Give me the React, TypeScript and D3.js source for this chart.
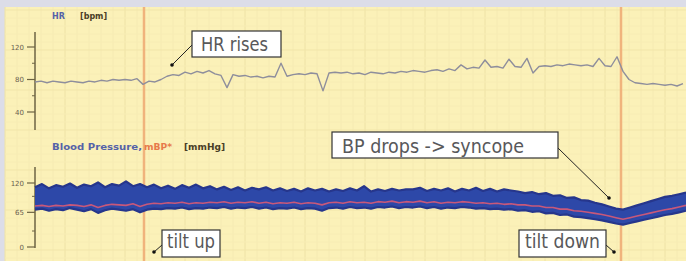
import React from 'react';
import * as d3 from 'd3';

const W = 686;
const H = 261;

// time in seconds (arbitrary), HR sampled every 6 s, BP every 7 s
const hrStep = 6;
const bpStep = 7;
const tiltEvents = [109, 586];

const hrValues = [
  77, 78, 76, 78, 77, 76, 78, 77, 76, 78,
  77, 79, 78, 80, 79, 80, 79, 81, 74, 78,
  77, 80, 84, 86, 85, 89, 87, 90, 88, 91,
  87, 85, 70, 86, 84, 85, 83, 84, 82, 84,
  83, 100, 84, 86, 87, 86, 88, 87, 66, 88,
  89, 88, 89, 87, 88, 86, 89, 88, 87, 89,
  88, 90, 89, 91, 90, 89, 91, 92, 90, 93,
  91, 98, 93, 95, 94, 104, 95, 96, 94, 105,
  96, 95, 106, 88, 96, 97, 96, 98, 97, 99,
  98, 97, 98, 96, 106, 97, 96, 108, 90, 80,
  76, 75, 74, 75, 74, 73, 74, 72, 75,
];

const bpSystolic = [
  112, 118, 110, 116, 113, 119, 111, 117, 114, 121,
  112, 118, 115, 123, 114, 118, 112, 117, 110, 115,
  109, 116, 111, 117, 110, 114, 108, 113, 107, 112,
  106, 111, 108, 112, 106, 110, 105, 109, 104, 110,
  106, 109, 104, 108, 105, 110, 106, 114, 104, 108,
  105, 109, 106, 108, 108, 111, 105, 109, 106, 110,
  104, 109, 106, 111, 105, 109, 104, 108, 106, 104,
  101, 103, 99, 101, 96, 97, 92, 93, 88, 87,
  83, 80, 76, 72, 70, 74, 78, 82, 86, 90,
  94, 96, 99, 102,
];

const bpDiastolic = [
  70, 72, 68, 71, 69, 73, 70, 67, 71, 64,
  69, 72, 70, 68, 71, 65, 70, 72, 71, 73,
  72, 74, 71, 73, 72, 74, 73, 75, 72, 74,
  73, 75, 72, 74, 71, 73, 72, 74, 71, 73,
  72, 68, 73, 74, 72, 75, 73, 74, 72, 75,
  74, 76, 73, 75, 74, 76, 73, 75, 72, 74,
  73, 75, 74, 72, 73, 71, 72, 70, 71, 68,
  69, 66, 67, 63, 64, 60, 61, 57, 56, 54,
  52, 50, 47, 44, 42, 45, 48, 51, 54, 57,
  60, 62, 65, 68,
];

const bpMean = [
  77, 78, 76, 78, 77, 79, 78, 76, 79, 74,
  78, 80, 79, 78, 81, 76, 80, 82, 81, 83,
  82, 84, 81, 83, 82, 84, 83, 85, 82, 84,
  83, 85, 82, 84, 81, 83, 82, 84, 81, 83,
  82, 79, 83, 84, 82, 85, 83, 84, 82, 85,
  84, 86, 83, 85, 84, 86, 83, 85, 82, 84,
  83, 85, 84, 82, 83, 81, 82, 80, 81, 79,
  79, 77, 77, 74, 74, 71, 71, 68, 67, 65,
  63, 61, 58, 55, 52, 55, 58, 61, 64, 67,
  70, 72, 75, 78,
];

const hrTicks = [40, 80, 120];
const hrMinorTicks = [60, 100];
const bpTicks = [0, 65, 120];
const bpMinorTicks = [30, 95];

const annotationLabels = ['HR rises', 'BP drops -> syncope', 'tilt up', 'tilt down'];

// layout for annotations (box, text, pointer)
const annotationLayout = [
  { x: 192, y: 31, w: 89, h: 26, tx: 201, tw: 67, base: 51, from: [192, 45], to: [172, 65] },
  { x: 332, y: 132, w: 226, h: 26, tx: 342, tw: 182, base: 153, from: [558, 148], to: [609, 198] },
  { x: 162, y: 230, w: 58, h: 27, tx: 167, tw: 48, base: 248, from: [162, 245], to: [154, 252] },
  { x: 519, y: 230, w: 87, h: 27, tx: 525, tw: 75, base: 248, from: [606, 245], to: [614, 252] },
];

export default function App() {
  const x = d3.scaleLinear().domain([0, 651]).range([35, 686]);
  const yHR = d3.scaleLinear().domain([40, 120]).range([112, 47]);
  const yBP = d3.scaleLinear().domain([0, 120]).range([247, 183]);

  const hrLine = d3
    .line<number>()
    .x((_, i) => x(i * hrStep))
    .y((d) => yHR(d));

  const bpArea = d3
    .area<number>()
    .x((_, i) => x(i * bpStep))
    .y0((_, i) => yBP(bpDiastolic[i]))
    .y1((d) => yBP(d));

  const bpLine = d3
    .line<number>()
    .x((_, i) => x(i * bpStep))
    .y((d) => yBP(d));

  const gridX = d3.range(5, W, 12);
  const gridY = d3.range(10, H, 8);

  const font = '"DejaVu Sans", Verdana, sans-serif';

  return (
    <svg
      width={W}
      height={H}
      style={{ position: 'absolute', left: 0, top: 0, display: 'block' }}
    >
      <rect x={0} y={0} width={W} height={H} fill="#dcdde8" />
      <rect x={5} y={7} width={W - 5} height={H - 7} fill="#fbf1b8" />
      {gridX.map((gx, i) => (
        <line
          key={'gx' + i}
          x1={gx}
          x2={gx}
          y1={7}
          y2={H}
          stroke={i % 5 === 0 ? '#eee2a6' : '#f5eab2'}
          strokeWidth={1}
        />
      ))}
      {gridY.map((gy, i) => (
        <line
          key={'gy' + i}
          x1={5}
          x2={W}
          y1={gy}
          y2={gy}
          stroke={i % 5 === 0 ? '#f1e5a9' : '#f7ecb4'}
          strokeWidth={1}
        />
      ))}

      {/* tilt event lines */}
      {tiltEvents.map((t, i) => (
        <line
          key={'ev' + i}
          x1={x(t)}
          x2={x(t)}
          y1={7}
          y2={H}
          stroke="#f0b37c"
          strokeWidth={2.5}
        />
      ))}

      {/* HR panel */}
      <text x={52} y={19} fontFamily={font} fontSize={8} fontWeight="bold" fill="#5562a8">
        HR
      </text>
      <text x={80} y={19} fontFamily={font} fontSize={8} fontWeight="bold" fill="#4a3e26">
        [bpm]
      </text>
      <line x1={35} x2={35} y1={32} y2={130} stroke="#6e6444" strokeWidth={1.5} />
      {hrTicks.map((v) => (
        <g key={'ht' + v}>
          <line x1={27} x2={35} y1={yHR(v)} y2={yHR(v)} stroke="#6e6444" strokeWidth={1.2} />
          <text
            x={24}
            y={yHR(v) + 2.5}
            textAnchor="end"
            fontFamily={font}
            fontSize={7}
            fill="#6a6050"
          >
            {v}
          </text>
        </g>
      ))}
      {hrMinorTicks.map((v) => (
        <line key={'hm' + v} x1={32} x2={35} y1={yHR(v)} y2={yHR(v)} stroke="#6e6444" strokeWidth={1} />
      ))}
      <path d={hrLine(hrValues) || ''} fill="none" stroke="#8e8e9c" strokeWidth={1.4} strokeLinejoin="round" />

      {/* BP panel */}
      <text x={52} y={150} fontFamily={font} fontSize={8} fontWeight="bold" fill="#5562a8" textLength={90} lengthAdjust="spacingAndGlyphs">
        Blood Pressure,
      </text>
      <text x={144} y={150} fontFamily={font} fontSize={8} fontWeight="bold" fill="#e77a4a" textLength={28} lengthAdjust="spacingAndGlyphs">
        mBP*
      </text>
      <text x={184} y={150} fontFamily={font} fontSize={8} fontWeight="bold" fill="#4a3e26" textLength={41} lengthAdjust="spacingAndGlyphs">
        [mmHg]
      </text>
      <line x1={35} x2={35} y1={167} y2={248} stroke="#6e6444" strokeWidth={1.5} />
      {bpTicks.map((v) => (
        <g key={'bt' + v}>
          <line x1={27} x2={35} y1={yBP(v)} y2={yBP(v)} stroke="#6e6444" strokeWidth={1.2} />
          <text
            x={24}
            y={yBP(v) + 2.5}
            textAnchor="end"
            fontFamily={font}
            fontSize={7}
            fill="#6a6050"
          >
            {v}
          </text>
        </g>
      ))}
      {bpMinorTicks.map((v) => (
        <line key={'bm' + v} x1={32} x2={35} y1={yBP(v)} y2={yBP(v)} stroke="#6e6444" strokeWidth={1} />
      ))}
      <path d={bpArea(bpSystolic) || ''} fill="#2d48a8" stroke="none" />
      <path d={bpLine(bpSystolic) || ''} fill="none" stroke="#26368c" strokeWidth={2.2} strokeLinejoin="round" />
      <path d={bpLine(bpDiastolic) || ''} fill="none" stroke="#26368c" strokeWidth={2.2} strokeLinejoin="round" />
      <path d={bpLine(bpMean) || ''} fill="none" stroke="#c8587a" strokeWidth={1.6} strokeLinejoin="round" />

      {/* annotations */}
      {annotationLabels.map((label, i) => {
        const a = annotationLayout[i];
        return (
          <g key={'an' + i}>
            <line x1={a.from[0]} y1={a.from[1]} x2={a.to[0]} y2={a.to[1]} stroke="#222" strokeWidth={1} />
            <circle cx={a.to[0]} cy={a.to[1]} r={1.8} fill="#111" />
            <rect x={a.x} y={a.y} width={a.w} height={a.h} fill="#ffffff" stroke="#333" strokeWidth={1.2} />
            <text
              x={a.tx}
              y={a.base}
              fontFamily={font}
              fontSize={20}
              fill="#58585a"
              textLength={a.tw}
              lengthAdjust="spacingAndGlyphs"
            >
              {label}
            </text>
          </g>
        );
      })}
    </svg>
  );
}
